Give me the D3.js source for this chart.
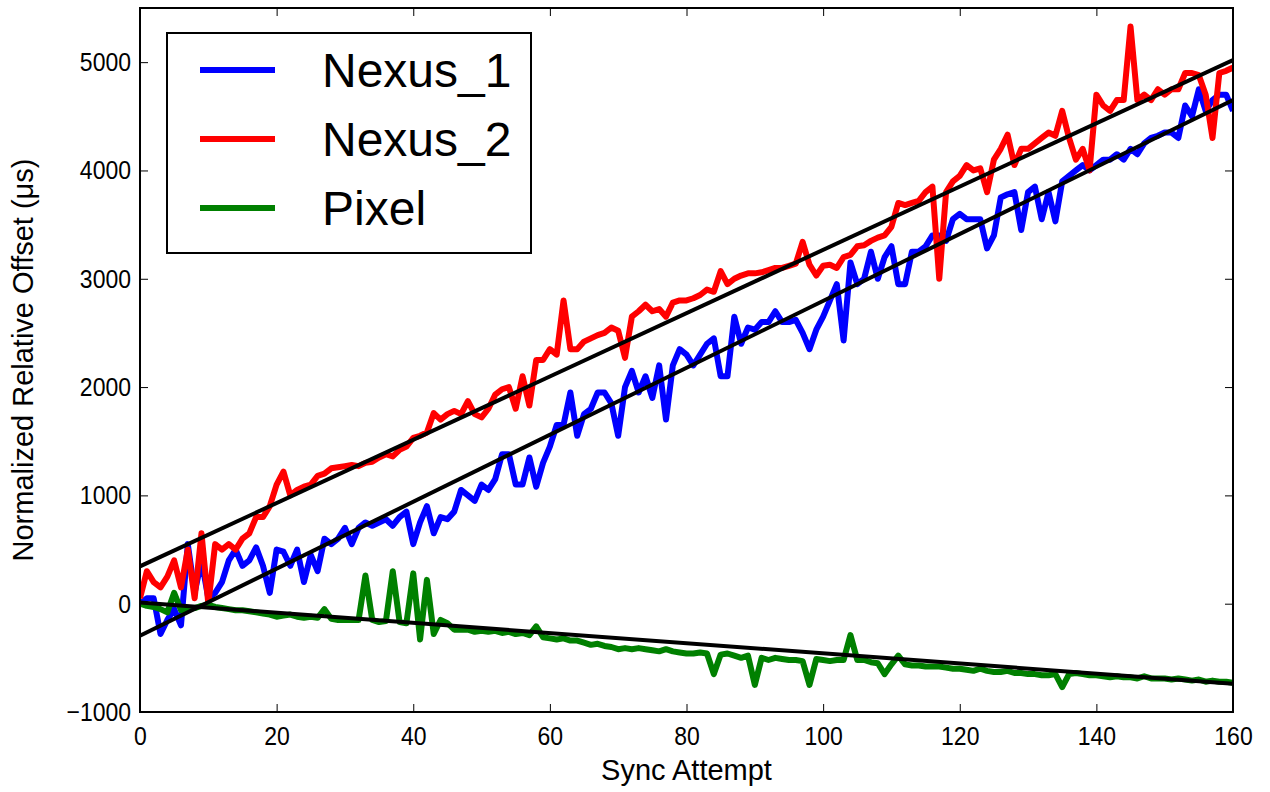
<!DOCTYPE html>
<html>
<head>
<meta charset="utf-8">
<script src="https://cdn.jsdelivr.net/npm/d3@7"></script>
<style>
  body { margin: 0; background: #fff; }
  text { font-family: "Liberation Sans", Arial, sans-serif; }
</style>
</head>
<body>
<div id="chart"></div>
<script>
    var w = 1270;
    var h = 792;
    var margin = { top: 8, right: 37, bottom: 80, left: 140 };
    var innerW = w - margin.left - margin.right,
        innerH = h - margin.top - margin.bottom;

    var seriesNames = ['Nexus_1', 'Nexus_2', 'Pixel'];
    var seriesColors = ['#0000ff', '#ff0000', '#008000'];

    // values read per sync attempt 0..160
    var nexus1 = [0, 50, 50, -280, -150, -50, -200, 550, 100, 400, 50, 100, 200, 400, 500, 350, 400, 520, 350, 100,
        500, 480, 350, 500, 200, 450, 300, 600, 550, 600, 700, 550, 700, 750, 720, 750, 780, 720, 800, 850,
        550, 750, 900, 650, 800, 780, 850, 1050, 1000, 950, 1100, 1050, 1150, 1380, 1380, 1100, 1100, 1350, 1080, 1300,
        1450, 1650, 1650, 1950, 1550, 1750, 1800, 1950, 1950, 1850, 1550, 2000, 2150, 1950, 2100, 1900, 2200, 1700, 2200, 2350,
        2300, 2200, 2300, 2400, 2450, 2100, 2100, 2650, 2400, 2550, 2530, 2600, 2600, 2700, 2600, 2600, 2620, 2500, 2350, 2530,
        2650, 2800, 2950, 2430, 3150, 2950, 3000, 3250, 3000, 3200, 3300, 2950, 2950, 3250, 3250, 3300, 3400, 3400, 3350, 3550,
        3600, 3550, 3550, 3550, 3280, 3400, 3750, 3780, 3800, 3450, 3800, 3850, 3550, 3800, 3530, 3900, 3950, 4000, 4050, 4000,
        4050, 4100, 4100, 4150, 4100, 4200, 4150, 4250, 4300, 4320, 4350, 4350, 4300, 4600, 4500, 4750, 4550, 4650, 4700, 4700,
        4550];
    var nexus2 = [50, 300, 200, 150, 250, 400, 150, 500, 50, 650, 0, 550, 500, 550, 500, 600, 650, 800, 800, 900,
        1100, 1220, 1000, 1050, 1080, 1100, 1180, 1200, 1250, 1260, 1270, 1280, 1270, 1300, 1310, 1350, 1380, 1360, 1420, 1450,
        1530, 1550, 1580, 1760, 1700, 1750, 1780, 1750, 1870, 1750, 1720, 1800, 1930, 1980, 2000, 1800, 2100, 1830, 2250, 2250,
        2350, 2300, 2800, 2350, 2350, 2420, 2450, 2480, 2500, 2550, 2520, 2270, 2650, 2700, 2760, 2700, 2720, 2650, 2780, 2800,
        2800, 2820, 2850, 2900, 2880, 3070, 2950, 3000, 3030, 3050, 3050, 3060, 3080, 3100, 3100, 3120, 3140, 3340, 3130, 3030,
        3120, 3130, 3100, 3200, 3220, 3300, 3310, 3350, 3380, 3400, 3480, 3700, 3680, 3700, 3720, 3800, 3850, 3000, 3800, 3900,
        3950, 4050, 4000, 4020, 3800, 4100, 4200, 4330, 4050, 4200, 4200, 4250, 4300, 4350, 4320, 4550, 4300, 4100, 4200, 4000,
        4700, 4600, 4550, 4650, 4650, 5330, 4650, 4700, 4650, 4750, 4700, 4750, 4750, 4900, 4900, 4880, 4700, 4300, 4900, 4920,
        4950];
    var pixel = [0, -20, -30, -50, -80, 100, -60, -50, -40, -20, -10, -30, -40, -50, -60, -60, -70, -80, -90, -100,
        -120, -110, -100, -120, -130, -120, -130, -50, -140, -150, -150, -150, -150, 260, -150, -170, -160, 300, -170, -180,
        280, -330, 220, -280, -150, -180, -240, -240, -240, -260, -250, -260, -250, -270, -260, -280, -270, -290, -210, -310,
        -320, -330, -320, -340, -340, -360, -380, -370, -390, -400, -420, -410, -420, -410, -420, -430, -440, -420, -440, -450,
        -460, -460, -450, -460, -650, -470, -460, -480, -500, -480, -750, -500, -520, -500, -510, -520, -520, -530, -750, -510,
        -520, -530, -520, -520, -290, -520, -520, -540, -550, -650, -560, -480, -560, -570, -570, -580, -580, -580, -590, -600,
        -600, -610, -620, -600, -620, -630, -630, -620, -640, -640, -650, -650, -660, -660, -650, -770, -650, -640, -650, -660,
        -660, -670, -680, -670, -680, -680, -690, -670, -690, -690, -690, -700, -690, -700, -710, -700, -720, -710, -720, -720,
        -730];

    // linear fit ends at attempt 0 and 160
    var fitStart = [-295, 345, 10];
    var fitEnd = [4650, 5020, -740];

    var xTicks = [0, 20, 40, 60, 80, 100, 120, 140, 160];
    var yTicks = [-1000, 0, 1000, 2000, 3000, 4000, 5000];

    var x = d3.scaleLinear().domain([0, 160]).range([0, innerW]);
    var y = d3.scaleLinear().domain([-1000, 5500]).range([innerH, 0]);

    var svg = d3.select('#chart').append('svg')
        .attr('width', w)
        .attr('height', h)
        .append('g')
        .attr('transform', 'translate(' + [margin.left, margin.top] + ')');

    svg.append('defs').append('clipPath').attr('id', 'clip')
        .append('rect').attr('width', innerW).attr('height', innerH);

    var fmt = d3.format('');
    var xAxis = d3.axisBottom(x).tickValues(xTicks).tickFormat(fmt).tickSizeInner(-8).tickSizeOuter(0).tickPadding(14);
    var xAxisTop = d3.axisTop(x).tickValues(xTicks).tickFormat('').tickSizeInner(-8).tickSizeOuter(0);
    var yAxis = d3.axisLeft(y).tickValues(yTicks).tickFormat(fmt).tickSizeInner(-8).tickSizeOuter(0).tickPadding(9);
    var yAxisRight = d3.axisRight(y).tickValues(yTicks).tickFormat('').tickSizeInner(-8).tickSizeOuter(0);

    function styleAxis(g) {
        g.select('.domain').remove();
        g.selectAll('.tick line').attr('stroke', '#000').attr('stroke-width', 1);
        g.selectAll('.tick text').attr('fill', '#000').style('font-size', '23px');
    }

    svg.append('g').attr('transform', 'translate(' + [0, innerH] + ')').call(xAxis).call(styleAxis);
    svg.append('g').call(xAxisTop).call(styleAxis);
    svg.append('g').call(yAxis).call(styleAxis);
    svg.append('g').attr('transform', 'translate(' + [innerW, 0] + ')').call(yAxisRight).call(styleAxis);

    // the original type is a little taller than it is wide
    svg.selectAll('.tick text').each(function() {
        var t = d3.select(this);
        var ty = +t.attr('y') || 0;
        var tx = +t.attr('x') || 0;
        t.attr('transform', 'translate(' + [tx, ty] + ') scale(1,1.15) translate(' + [-tx, -ty] + ')');
    });

    var line = d3.line()
        .x(function(d, i) { return x(i); })
        .y(function(d) { return y(d); });

    var plot = svg.append('g').attr('clip-path', 'url(#clip)');
    var allSeries = [nexus1, nexus2, pixel];

    plot.selectAll('.series')
        .data(allSeries)
        .enter().append('path')
        .attr('class', 'series')
        .attr('d', line)
        .attr('fill', 'none')
        .attr('stroke', function(d, i) { return seriesColors[i]; })
        .attr('stroke-width', 6)
        .attr('stroke-linejoin', 'round');

    plot.selectAll('.fit')
        .data(fitStart)
        .enter().append('line')
        .attr('class', 'fit')
        .attr('x1', x(0))
        .attr('y1', function(d) { return y(d); })
        .attr('x2', x(160))
        .attr('y2', function(d, i) { return y(fitEnd[i]); })
        .attr('stroke', '#000')
        .attr('stroke-width', 4);

    // frame
    svg.append('rect')
        .attr('width', innerW)
        .attr('height', innerH)
        .attr('fill', 'none')
        .attr('stroke', '#000')
        .attr('stroke-width', 2);

    // axis labels
    svg.append('text')
        .attr('x', innerW / 2)
        .attr('y', innerH + 68)
        .attr('text-anchor', 'middle')
        .style('font-size', '29px')
        .text('Sync Attempt');

    svg.append('text')
        .attr('transform', 'translate(' + [-107, innerH / 2] + ') rotate(-90)')
        .attr('text-anchor', 'middle')
        .style('font-size', '29px')
        .text('Normalized Relative Offset (μs)');

    // legend
    var legend = svg.append('g').attr('transform', 'translate(' + [27, 25] + ')');
    legend.append('rect')
        .attr('width', 364)
        .attr('height', 220)
        .attr('fill', '#fff')
        .attr('stroke', '#000')
        .attr('stroke-width', 2);

    var item = legend.selectAll('.item')
        .data(seriesNames)
        .enter().append('g')
        .attr('class', 'item')
        .attr('transform', function(d, i) { return 'translate(' + [0, 37 + i * 69] + ')'; });

    item.append('line')
        .attr('x1', 33).attr('x2', 108)
        .attr('stroke', function(d, i) { return seriesColors[i]; })
        .attr('stroke-width', 6);

    item.append('text')
        .attr('x', 155)
        .attr('dy', '0.36em')
        .style('font-size', '48px')
        .text(function(d) { return d; });
</script>
</body>
</html>
